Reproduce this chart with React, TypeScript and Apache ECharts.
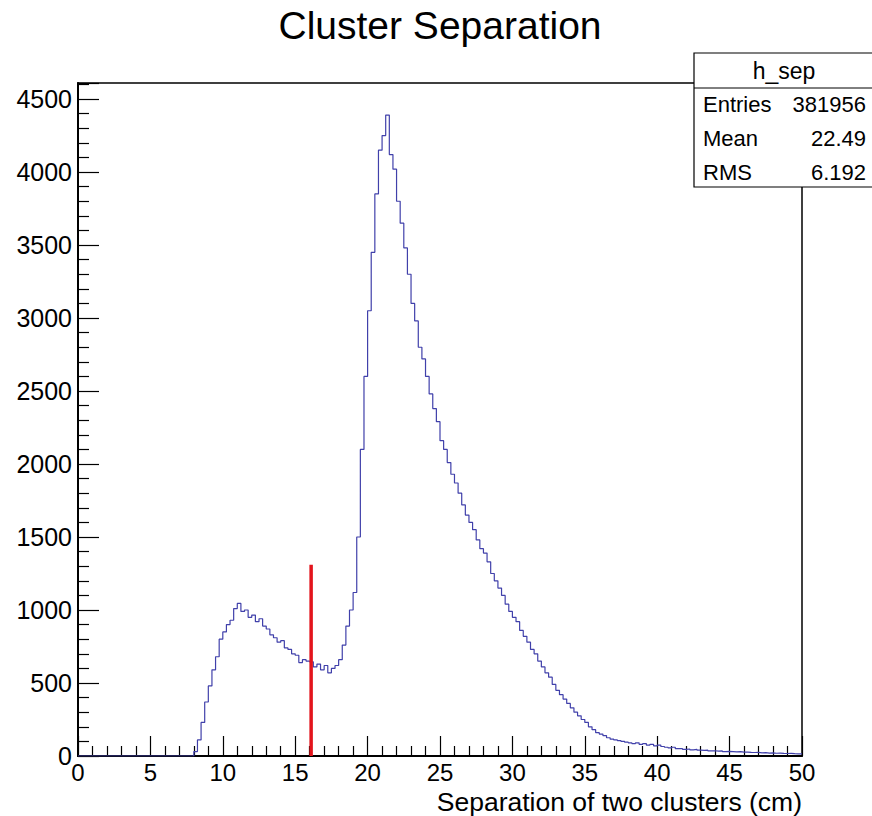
import React, { useEffect, useRef } from "react";
import * as echarts from "echarts";

// Histogram h_sep: bin width 0.25 cm, bin lower edges from 0 to 49.75
const binWidth = 0.25;
const counts: number[] = [
  // 0.00 - 7.75
  0, 0, 0, 0, 0, 0, 0, 0, 0, 0, 0, 0, 0, 0, 0, 0,
  0, 0, 0, 0, 0, 0, 0, 0, 0, 0, 0, 0, 0, 0, 0, 0,
  // 8.00 - 11.75
  30, 110, 230, 370, 480, 590, 680, 800, 850, 900, 930, 1010, 1045, 990, 1000, 950,
  // 12.00 - 15.75
  965, 920, 940, 890, 870, 830, 810, 780, 790, 740, 730, 700, 690, 640, 660, 650,
  // 16.00 - 19.75
  645, 610, 630, 590, 620, 570, 600, 620, 660, 760, 890, 1000, 1120, 1500, 2100, 2600,
  // 20.00 - 23.75
  3050, 3450, 3850, 4150, 4250, 4390, 4120, 4020, 3800, 3650, 3480, 3300, 3100, 2980, 2800, 2720,
  // 24.00 - 27.75
  2600, 2480, 2380, 2290, 2160, 2100, 2010, 1930, 1870, 1800, 1720, 1650, 1600, 1550, 1480, 1420,
  // 28.00 - 31.75
  1390, 1330, 1250, 1200, 1150, 1100, 1040, 990, 950, 920, 860, 820, 780, 730, 700, 650,
  // 32.00 - 35.75
  610, 570, 540, 490, 450, 420, 390, 360, 330, 300, 275, 250, 230, 200, 180, 160,
  // 36.00 - 39.75
  150, 140, 125, 115, 110, 105, 100, 95, 90, 85, 90, 80, 85, 75, 80, 70,
  // 40.00 - 43.75
  75, 65, 60, 55, 60, 50, 50, 45, 48, 42, 45, 40, 38, 40, 35, 36,
  // 44.00 - 47.75
  33, 35, 30, 32, 30, 28, 30, 26, 27, 25, 24, 25, 22, 23, 20, 21,
  // 48.00 - 49.75
  19, 20, 18, 17, 18, 16, 15, 14,
];

const cutX = 16.1;
const cutTop = 1310;

const statsTitle = "h_sep";
const statsNames = ["Entries", "Mean", "RMS"];
const statsValues = ["381956", "22.49", "6.192"];

const chartTitle = "Cluster Separation";
const xTitle = "Separation of two clusters (cm)";

const FONT = "'Liberation Sans', Arial, Helvetica, sans-serif";

export default function App() {
  const ref = useRef<HTMLDivElement>(null);

  useEffect(() => {
    if (!ref.current) return;
    const chart = echarts.init(ref.current, null, { renderer: "svg" });

    const histData: [number, number][] = counts.map((v, i) => [i * binWidth, v]);
    histData.push([counts.length * binWidth, counts[counts.length - 1]]);

    const boxLeft = 694;
    const boxTop = 53;
    const boxW = 190;
    const boxH = 134;
    const rowY = [104, 138, 172];

    const statsGraphics: any[] = [
      {
        type: "rect",
        shape: { x: boxLeft, y: boxTop, width: boxW, height: boxH },
        style: { fill: "#fff", stroke: "#000", lineWidth: 1.2 },
        z: 100,
      },
      {
        type: "line",
        shape: { x1: boxLeft, y1: 88, x2: boxLeft + boxW, y2: 88 },
        style: { stroke: "#000", lineWidth: 1 },
        z: 101,
      },
      {
        type: "text",
        x: 784,
        y: 71,
        style: {
          text: statsTitle,
          fontSize: 23,
          fontFamily: FONT,
          fill: "#000",
          textAlign: "center",
          textVerticalAlign: "middle",
        },
        z: 102,
      },
    ];
    statsNames.forEach((n, i) => {
      statsGraphics.push({
        type: "text",
        x: 703,
        y: rowY[i],
        style: {
          text: n,
          fontSize: 22,
          fontFamily: FONT,
          fill: "#000",
          textAlign: "left",
          textVerticalAlign: "middle",
        },
        z: 102,
      });
      statsGraphics.push({
        type: "text",
        x: 866,
        y: rowY[i],
        style: {
          text: statsValues[i],
          fontSize: 22,
          fontFamily: FONT,
          fill: "#000",
          textAlign: "right",
          textVerticalAlign: "middle",
        },
        z: 102,
      });
    });

    chart.setOption({
      animation: false,
      backgroundColor: "#fff",
      grid: {
        left: 78,
        right: 70,
        top: 83,
        bottom: 60,
        show: true,
        borderColor: "#000",
        borderWidth: 1.5,
        backgroundColor: "transparent",
      },
      xAxis: {
        type: "value",
        min: 0,
        max: 50,
        interval: 5,
        axisLine: { show: true, onZero: false, lineStyle: { color: "#000", width: 2 } },
        axisTick: { show: true, inside: true, length: 20, lineStyle: { color: "#000", width: 1.2 } },
        minorTick: { show: true, splitNumber: 5, length: 10, lineStyle: { color: "#000", width: 1.2 } },
        splitLine: { show: false },
        axisLabel: {
          fontSize: 24,
          fontFamily: FONT,
          color: "#000",
          margin: 6,
          lineHeight: 20,
          formatter: (v: number) => String(v),
        },
      },
      yAxis: {
        type: "value",
        min: 0,
        max: 4610,
        interval: 500,
        axisLine: { show: true, onZero: false, lineStyle: { color: "#000", width: 2 } },
        axisTick: { show: true, inside: true, length: 21, lineStyle: { color: "#000", width: 1.2 } },
        minorTick: { show: true, splitNumber: 5, length: 11, lineStyle: { color: "#000", width: 1.2 } },
        splitLine: { show: false },
        axisLabel: {
          fontSize: 25,
          fontFamily: FONT,
          color: "#000",
          margin: 6,
          showMaxLabel: false,
          formatter: (v: number) => String(v),
        },
      },
      series: [
        {
          type: "line",
          step: "end",
          data: histData,
          symbol: "none",
          lineStyle: { color: "#4040aa", width: 1.2 },
          z: 3,
        },
        {
          type: "line",
          data: [
            [cutX, 0],
            [cutX, cutTop],
          ],
          symbol: "none",
          lineStyle: { color: "#e3141c", width: 3.5 },
          z: 4,
        },
      ],
      graphic: [
        {
          type: "text",
          x: 440,
          y: 25,
          style: {
            text: chartTitle,
            fontSize: 39,
            fontFamily: FONT,
            fill: "#000",
            textAlign: "center",
            textVerticalAlign: "middle",
          },
        },
        {
          type: "text",
          x: 802,
          y: 802,
          style: {
            text: xTitle,
            fontSize: 26.5,
            lineHeight: 22,
            fontFamily: FONT,
            fill: "#000",
            textAlign: "right",
            textVerticalAlign: "middle",
          },
        },
        ...statsGraphics,
      ],
    });

    return () => chart.dispose();
  }, []);

  return <div ref={ref} style={{ width: 872, height: 816, position: "absolute", left: 0, top: 0 }} />;
}
